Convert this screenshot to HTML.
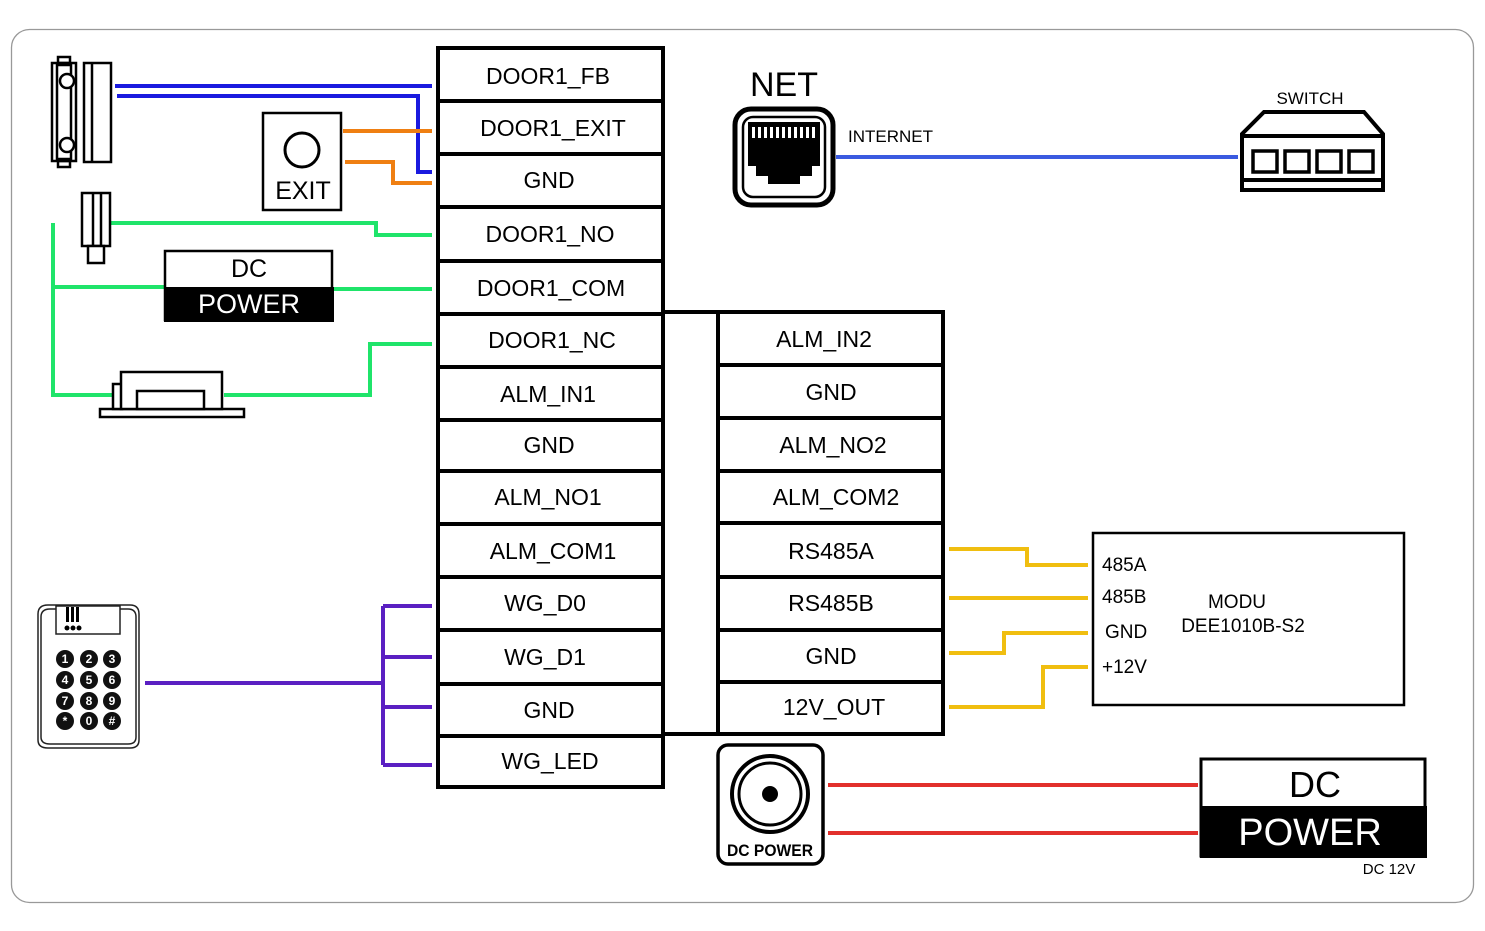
<!DOCTYPE html>
<html><head><meta charset="utf-8"><style>
html,body{margin:0;padding:0;background:#fff}
svg{display:block;font-family:"Liberation Sans",Arial,sans-serif}
</style></head><body>
<svg width="1485" height="931" viewBox="0 0 1485 931" xmlns="http://www.w3.org/2000/svg">
<rect x="11.5" y="29.5" width="1462" height="873" rx="18" fill="#fff" stroke="#999" stroke-width="1.3"/>

<g fill="none" stroke-width="4">
<path d="M115 86H432M117 96H418V172H432" stroke="#1a1adf"/>
<path d="M343 131H432M345 162H393V183H432" stroke="#ef7f12"/>
<path d="M111 223H376V235H432M53 223V395H112M53 287H164M334 289H432M224 395H370V344H432" stroke="#1fe46a"/>
<path d="M145 683H383M383 606V765M383 606H432M383 657H432M383 707H432M383 765H432" stroke="#5a1fc2"/>
<path d="M949 549H1027V565H1088M949 598H1088M949 653H1004V633H1088M949 707H1043V667H1088" stroke="#f0be10"/>
<path d="M828 785H1198M828 833H1198" stroke="#e2302c"/>
<path d="M836 157H1238" stroke="#3a5ae0"/>
</g>

<g stroke="#000" stroke-width="4" fill="none">
<rect x="438" y="48" width="225" height="739"/>
<path d="M438 101H663M438 154H663M438 207H663M438 261H663M438 314H663M438 367H663M438 420H663M438 471H663M438 524H663M438 577H663M438 630H663M438 684H663M438 736H663"/>
<rect x="718" y="312" width="225" height="422"/>
<path d="M663 312H718M663 734H718M718 365H943M718 418H943M718 471H943M718 523H943M718 577H943M718 630H943M718 682H943"/>
</g>
<g font-size="23" text-anchor="middle" fill="#000">
<text x="548" y="84">DOOR1_FB</text>
<text x="553" y="136">DOOR1_EXIT</text>
<text x="549" y="188">GND</text>
<text x="550" y="242">DOOR1_NO</text>
<text x="551" y="296">DOOR1_COM</text>
<text x="552" y="348">DOOR1_NC</text>
<text x="548" y="402">ALM_IN1</text>
<text x="549" y="453">GND</text>
<text x="548" y="505">ALM_NO1</text>
<text x="553" y="559">ALM_COM1</text>
<text x="545" y="611">WG_D0</text>
<text x="545" y="665">WG_D1</text>
<text x="549" y="718">GND</text>
<text x="550" y="769">WG_LED</text>
<text x="824" y="347">ALM_IN2</text>
<text x="831" y="400">GND</text>
<text x="833" y="453">ALM_NO2</text>
<text x="836" y="505">ALM_COM2</text>
<text x="831" y="559">RS485A</text>
<text x="831" y="611">RS485B</text>
<text x="831" y="664">GND</text>
<text x="834" y="715">12V_OUT</text>
</g>

<g stroke="#000" stroke-width="2.5" fill="#fff">
<rect x="58" y="57" width="12" height="6"/><rect x="58" y="161" width="12" height="6"/>
<rect x="52" y="63" width="24" height="98"/>
<rect x="57" y="65" width="14" height="94"/>
<circle cx="67" cy="81" r="7"/><circle cx="67" cy="145" r="7"/>
<rect x="84" y="63" width="27" height="99"/>
<line x1="92" y1="64" x2="92" y2="161"/>
</g>
<rect x="263" y="113" width="78" height="97" fill="#fff" stroke="#000" stroke-width="2.5"/>
<circle cx="302" cy="150" r="17" fill="none" stroke="#000" stroke-width="3"/>
<text x="303" y="199" font-size="25" text-anchor="middle">EXIT</text>
<g stroke="#000" stroke-width="2.5" fill="#fff">
<rect x="82" y="193" width="28" height="53"/>
<line x1="93" y1="194" x2="93" y2="245"/><line x1="101" y1="194" x2="101" y2="245"/>
<rect x="88" y="246" width="16" height="17"/>
</g>
<rect x="165" y="251" width="167" height="69" fill="#fff" stroke="#000" stroke-width="2.5"/>
<rect x="164" y="287" width="170" height="35" fill="#000"/>
<text x="249" y="277" font-size="25" text-anchor="middle">DC</text>
<text x="249" y="313" font-size="27" text-anchor="middle" fill="#fff">POWER</text>
<g stroke="#000" stroke-width="2.5" fill="#fff">
<rect x="100" y="409" width="144" height="8"/>
<rect x="113" y="384" width="9" height="25"/>
<rect x="121" y="372" width="101" height="37"/>
<rect x="137" y="391" width="67" height="18"/>
</g>

<g stroke="#222" stroke-width="1.5" fill="#fff">
<path d="M38 614Q38 605 48 605H130Q139 605 139 614V740Q139 748 130 748H48Q38 748 38 740Z"/>
<path d="M41 617Q41 609 50 609H128Q136 609 136 617V737Q136 744 128 744H50Q41 744 41 737Z"/>
<rect x="56" y="606" width="64" height="28"/>
</g>
<g fill="#000">
<rect x="66" y="607" width="3" height="15"/><rect x="71" y="607" width="3" height="15"/><rect x="76" y="607" width="3" height="15"/>
<circle cx="67" cy="628" r="2.5"/><circle cx="73" cy="628" r="2.5"/><circle cx="79" cy="628" r="2.5"/>
</g>
<g fill="#111">
<circle cx="65" cy="659" r="9"/><circle cx="89" cy="659" r="9"/><circle cx="112" cy="659" r="9"/>
<circle cx="65" cy="680" r="9"/><circle cx="89" cy="680" r="9"/><circle cx="112" cy="680" r="9"/>
<circle cx="65" cy="701" r="9"/><circle cx="89" cy="701" r="9"/><circle cx="112" cy="701" r="9"/>
<circle cx="65" cy="721" r="9"/><circle cx="89" cy="721" r="9"/><circle cx="112" cy="721" r="9"/>
</g>
<g fill="#fff" font-size="12" font-weight="bold" text-anchor="middle">
<text x="65" y="663">1</text><text x="89" y="663">2</text><text x="112" y="663">3</text>
<text x="65" y="684">4</text><text x="89" y="684">5</text><text x="112" y="684">6</text>
<text x="65" y="705">7</text><text x="89" y="705">8</text><text x="112" y="705">9</text>
<text x="65" y="725">*</text><text x="89" y="725">0</text><text x="112" y="725">#</text>
</g>

<text x="784" y="96" font-size="34" text-anchor="middle">NET</text>
<rect x="735" y="109" width="98" height="96" rx="16" fill="#fff" stroke="#000" stroke-width="5"/>
<rect x="743" y="117" width="82" height="80" rx="10" fill="none" stroke="#000" stroke-width="2.5"/>
<path d="M748 122H820V166H812V176H800V184H768V176H756V166H748Z" fill="#000"/>
<g fill="#fff"><rect x="752" y="127" width="3" height="11"/><rect x="758" y="127" width="3" height="11"/><rect x="764" y="127" width="3" height="11"/><rect x="770" y="127" width="3" height="11"/><rect x="776" y="127" width="3" height="11"/><rect x="782" y="127" width="3" height="11"/><rect x="788" y="127" width="3" height="11"/><rect x="794" y="127" width="3" height="11"/><rect x="800" y="127" width="3" height="11"/><rect x="806" y="127" width="3" height="11"/><rect x="812" y="127" width="3" height="11"/></g>
<text x="848" y="142" font-size="17">INTERNET</text>

<text x="1310" y="104" font-size="17" text-anchor="middle">SWITCH</text>
<g stroke="#000" stroke-width="4" fill="#fff">
<path d="M1264 112H1364L1383 134V190H1242V134Z"/>
<line x1="1242" y1="136" x2="1383" y2="136"/>
<line x1="1242" y1="180" x2="1383" y2="180"/>
</g>
<g stroke="#000" stroke-width="3.5" fill="#fff">
<rect x="1253" y="151" width="24" height="21"/><rect x="1285" y="151" width="24" height="21"/><rect x="1317" y="151" width="24" height="21"/><rect x="1349" y="151" width="24" height="21"/>
</g>

<rect x="1093" y="533" width="311" height="172" fill="none" stroke="#000" stroke-width="2.5"/>
<g font-size="19">
<text x="1102" y="571">485A</text>
<text x="1102" y="603">485B</text>
<text x="1105" y="638">GND</text>
<text x="1102" y="673">+12V</text>
<text x="1237" y="608" text-anchor="middle">MODU</text>
<text x="1243" y="632" text-anchor="middle">DEE1010B-S2</text>
</g>

<rect x="718" y="745" width="105" height="119" rx="10" fill="#fff" stroke="#000" stroke-width="3.5"/>
<circle cx="770" cy="794" r="38" fill="none" stroke="#000" stroke-width="4"/>
<circle cx="770" cy="794" r="31" fill="none" stroke="#000" stroke-width="3"/>
<circle cx="770" cy="794" r="8" fill="#000"/>
<text x="770" y="856" font-size="17" font-weight="bold" text-anchor="middle" textLength="86" lengthAdjust="spacingAndGlyphs">DC POWER</text>

<rect x="1201" y="759" width="224" height="97" fill="#fff" stroke="#000" stroke-width="3"/>
<rect x="1200" y="806" width="227" height="52" fill="#000"/>
<text x="1315" y="797" font-size="36" text-anchor="middle">DC</text>
<text x="1310" y="845" font-size="38" text-anchor="middle" fill="#fff">POWER</text>
<text x="1389" y="874" font-size="15" text-anchor="middle">DC 12V</text>
</svg>
</body></html>
